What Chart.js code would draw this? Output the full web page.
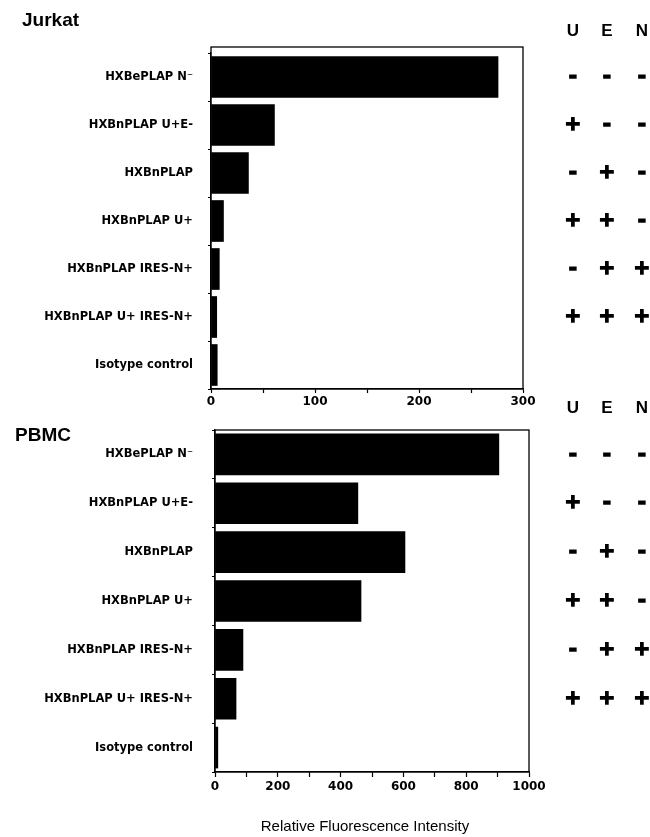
<!DOCTYPE html>
<html>
<head>
<meta charset="utf-8">
<script src="https://cdn.jsdelivr.net/npm/chart.js@4.4.0/dist/chart.umd.min.js"></script>
<style>
  html, body { margin: 0; padding: 0; background: #fff; }
  #wrap { position: relative; width: 650px; height: 837px; overflow: hidden; }
  canvas { position: absolute; left: 0; }
  #jurkat { top: 0; }
  #pbmc { top: 400px; }
</style>
</head>
<body>
<div id="wrap">
  <canvas id="jurkat" width="650" height="420"></canvas>
  <canvas id="pbmc" width="650" height="437"></canvas>
</div>
<script>
// constructs (same order in both panels)
const constructs = ['HXBePLAP N\u207B', 'HXBnPLAP U+E-', 'HXBnPLAP', 'HXBnPLAP U+',
  'HXBnPLAP IRES-N+', 'HXBnPLAP U+ IRES-N+', 'Isotype control'];
const jurkatValues = [276, 61, 36, 12, 8, 5.5, 6];
const pbmcValues = [904, 455, 605, 465, 89, 67, 9];

// U / E / N columns (no entry for the isotype control)
const signU = ['-', '+', '-', '+', '-', '+'];
const signE = ['-', '-', '+', '+', '+', '+'];
const signN = ['-', '-', '-', '-', '+', '+'];
const signHeads = ['U', 'E', 'N'];

// labelled ticks, the others are left as bare tick marks
const jurkatTicks = [0, 100, 200, 300];
const pbmcTicks = [0, 200, 400, 600, 800, 1000];
const axisTitle = 'Relative Fluorescence Intensity';

Chart.defaults.color = '#000';

// frame, panel title, U E N table and axis title
const extras = {
  id: 'extras',
  afterDraw(chart, args, o) {
    const { ctx, chartArea: a } = chart;
    const yScale = chart.scales.y;
    ctx.save();
    ctx.strokeStyle = '#000';
    ctx.lineWidth = 1.3;
    ctx.strokeRect(a.left, a.top - o.frameExtra, a.right - a.left, a.bottom - a.top + o.frameExtra);

    ctx.fillStyle = '#000';
    ctx.textAlign = 'left';
    ctx.textBaseline = 'alphabetic';
    ctx.font = 'bold 19px "Liberation Sans", Arial, sans-serif';
    ctx.fillText(o.title, o.titleX, o.titleY);

    ctx.textAlign = 'center';
    ctx.textBaseline = 'middle';
    ctx.font = 'bold 17px "Liberation Sans", Arial, sans-serif';
    signHeads.forEach((h, k) => ctx.fillText(h, o.colX[k], o.headY));

    // heavy +/- marks: fill plus a thin stroke to thicken them
    ctx.font = 'bold 20px "DejaVu Sans", sans-serif';
    ctx.lineWidth = 1.4;
    ctx.lineJoin = 'miter';
    [signU, signE, signN].forEach((col, k) => {
      col.forEach((s, i) => {
        const py = yScale.getPixelForValue(i);
        ctx.fillText(s, o.colX[k], py);
        ctx.strokeText(s, o.colX[k], py);
      });
    });

    if (o.axisTitle) {
      ctx.font = '15px "Liberation Sans", Arial, sans-serif';
      ctx.fillText(o.axisTitle, o.axisTitleX, o.axisTitleY);
    }
    ctx.restore();
  }
};

function makePanel(id, values, cfg) {
  return new Chart(document.getElementById(id), {
    type: 'bar',
    data: {
      labels: constructs,
      datasets: [{ data: values, backgroundColor: '#000', borderWidth: 0, barThickness: 41 }]
    },
    options: {
      indexAxis: 'y',
      responsive: false,
      animation: false,
      layout: { padding: cfg.padding },
      plugins: {
        legend: { display: false },
        tooltip: { enabled: false },
        extras: cfg.extras
      },
      scales: {
        x: {
          min: 0,
          max: cfg.max,
          afterFit: (s) => { s.height = cfg.xHeight; },
          ticks: {
            stepSize: cfg.step,
            autoSkip: false,
            maxRotation: 0,
            padding: cfg.xPad,
            font: { family: "'DejaVu Sans', sans-serif", weight: 'bold', size: 12 },
            callback: (v) => cfg.labelled.includes(v) ? v : ''
          },
          grid: { drawOnChartArea: false, tickLength: cfg.xTickLen, tickColor: '#000', tickWidth: 1.2 },
          border: { color: '#000', width: 1.3 }
        },
        y: {
          afterFit: (s) => { s.width = cfg.yWidth; },
          ticks: {
            padding: cfg.yPad,
            font: { family: "'DejaVu Sans', sans-serif", weight: 'bold', size: 11.5 }
          },
          grid: { drawOnChartArea: false, tickLength: 3, tickColor: '#000', tickWidth: 1 },
          border: { color: '#000', width: 1.3 }
        }
      }
    },
    plugins: [extras]
  });
}

makePanel('jurkat', jurkatValues, {
  padding: { top: 53, right: 127, left: 0, bottom: 0 },
  max: 300, step: 50, labelled: jurkatTicks,
  xHeight: 31, xTickLen: 4, xPad: 2, yWidth: 211, yPad: 15,
  extras: { frameExtra: 6, title: 'Jurkat', titleX: 22, titleY: 26, colX: [573, 607, 642], headY: 31 }
});

makePanel('pbmc', pbmcValues, {
  padding: { top: 30, right: 121, left: 0, bottom: 0 },
  max: 1000, step: 100, labelled: pbmcTicks,
  xHeight: 65, xTickLen: 5, xPad: 3, yWidth: 215, yPad: 19,
  extras: { frameExtra: 0, title: 'PBMC', titleX: 15, titleY: 41, colX: [573, 607, 642], headY: 8,
    axisTitle: axisTitle, axisTitleX: 365, axisTitleY: 427 }
});
</script>
</body>
</html>
